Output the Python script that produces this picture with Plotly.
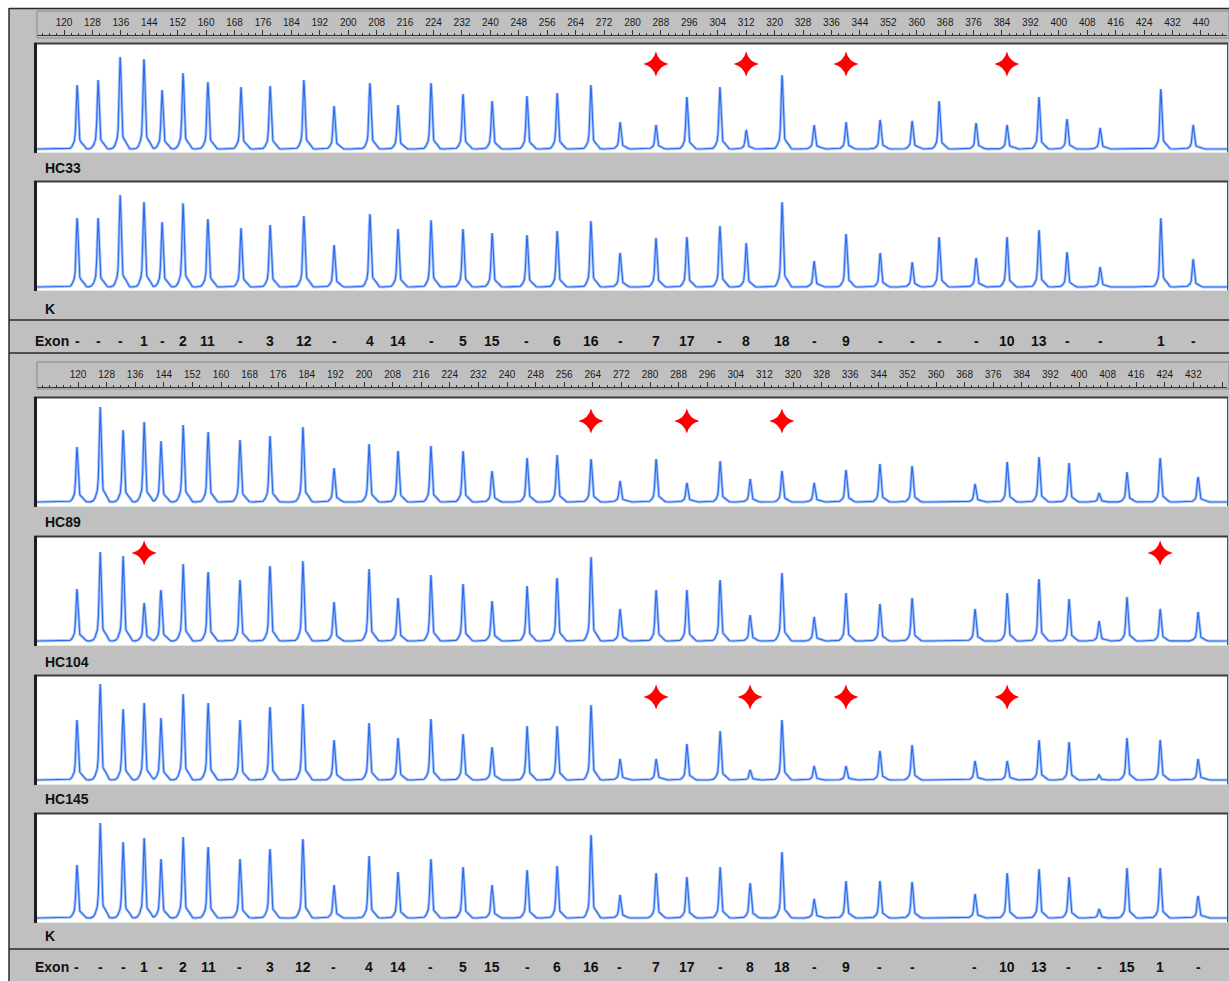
import numpy as np
import plotly.graph_objects as go

W, H = 1229, 981

# ---------------- data ----------------
# fragment sizes (bp) of the probe peaks, read against each group's own ruler
top_sizes = [123.7, 129.6, 135.8, 142.5, 147.6, 153.5, 160.5, 169.8, 178.0, 187.5,
             196.0, 206.1, 214.0, 223.3, 232.3, 240.5, 250.3, 258.8, 268.3, 276.5,
             286.6, 295.3, 304.6, 312.0, 322.1, 331.1, 340.1, 349.7, 358.7, 366.3,
             376.7, 385.4, 394.4, 402.3, 411.6, 428.7, 437.8]
bottom_sizes = [119.7, 126.2, 132.6, 138.5, 143.2, 149.4, 156.4, 165.3, 173.7, 182.9,
                191.6, 201.4, 209.5, 218.7, 227.7, 235.8, 245.6, 254.0, 263.5, 271.6,
                281.7, 290.3, 299.6, 308.0, 316.9, 325.9, 334.8, 344.3, 353.3, 370.9,
                379.9, 388.8, 397.2, 405.6, 413.4, 422.7, 433.3]

# peak heights (relative fluorescence units, arbitrary)
hc33 = [64, 69, 92, 90, 59, 76, 67, 62, 63, 69, 43, 66, 44, 66, 55, 48, 53, 56, 64, 27,
        24, 52, 62, 19, 74, 24, 27, 29, 28, 48, 26, 24, 52, 30, 21, 60, 24]
k_top = [69, 69, 92, 85, 65, 84, 68, 59, 62, 71, 42, 73, 58, 67, 58, 54, 52, 56, 66, 34,
         49, 50, 61, 44, 85, 26, 53, 34, 25, 50, 29, 50, 57, 35, 20, 69, 28]
hc89 = [55, 95, 72, 80, 61, 77, 70, 62, 66, 75, 34, 58, 51, 56, 51, 31, 44, 47, 43, 21,
        43, 19, 41, 23, 31, 19, 32, 38, 36, 18, 40, 45, 39, 9, 30, 44, 25]
hc104 = [52, 89, 85, 38, 51, 77, 69, 61, 75, 80, 39, 72, 43, 66, 57, 40, 55, 63, 84, 32,
         51, 51, 61, 26, 68, 24, 48, 37, 43, 32, 48, 62, 42, 20, 44, 32, 29]
hc145 = [60, 96, 71, 77, 62, 86, 77, 60, 73, 76, 40, 57, 42, 61, 46, 33, 54, 54, 75, 21,
         21, 36, 49, 10, 60, 14, 14, 29, 35, 19, 19, 40, 38, 5, 42, 40, 21]
k_bottom = [53, 95, 76, 80, 59, 81, 71, 59, 69, 79, 33, 62, 46, 59, 51, 33, 48, 52, 83, 23,
            45, 41, 51, 35, 66, 19, 37, 37, 36, 24, 45, 49, 41, 9, 50, 50, 22]

# indices of peaks marked with a star (reduced peaks)
hc33_marks = [20, 23, 26, 31]
hc89_marks = [18, 21, 24]
hc104_marks = [3, 35]
hc145_marks = [20, 23, 26, 30]

top_exons = ["-", "-", "-", "1", "-", "2", "11", "-", "3", "12", "-", "4", "14", "-", "5",
             "15", "-", "6", "16", "-", "7", "17", "-", "8", "18", "-", "9", "-", "-", "-",
             "-", "10", "13", "-", "-", "1", "-"]
bottom_exons = ["-", "-", "-", "1", "-", "2", "11", "-", "3", "12", "-", "4", "14", "-", "5",
                "15", "-", "6", "16", "-", "7", "17", "-", "8", "18", "-", "9", "-", "-", "-",
                "10", "13", "-", "-", "15", "1", "-"]

ruler_ticks = [120, 128, 136, 144, 152, 160, 168, 176, 184, 192, 200, 208, 216, 224, 232,
               240, 248, 256, 264, 272, 280, 288, 296, 304, 312, 320, 328, 336, 344, 352,
               360, 368, 376, 384, 392, 400, 408, 416, 424, 432, 440]

# ---------------- geometry helpers ----------------
def px(x):
    return x / W


def py(y):
    return 1 - y / H


XL, XR = 37, 1227
top_range = [120 + (XL - 64) / 3.553, 120 + (XR - 64) / 3.553]
bot_range = [120 + (XL - 78) / 3.575, 120 + (XR - 78) / 3.575]

panels = [
    # name, sizes, heights, group, top px, bottom px, yrange, label y, marks, star y
    ("HC33", top_sizes, hc33, "top", 44, 152, [-3, 105], 168, hc33_marks, 85),
    ("K", top_sizes, k_top, "top", 182, 290, [-3, 105], 309, None, None),
    ("HC89", bottom_sizes, hc89, "bot", 398, 506, [-4, 104], 522, hc89_marks, 81),
    ("HC104", bottom_sizes, hc104, "bot", 537, 645, [-4, 104], 662, hc104_marks, 88),
    ("HC145", bottom_sizes, hc145, "bot", 676, 784, [-4, 104], 799, hc145_marks, 83),
    ("K", bottom_sizes, k_bottom, "bot", 814, 922, [-4, 104], 936, None, None),
]

FONT = "Arial, Liberation Sans, Helvetica, sans-serif"
TXT = "#111111"
GREY = "#c0c0c0"

fig = go.Figure()
layout = dict(
    width=W, height=H, margin=dict(l=0, r=0, t=0, b=0),
    paper_bgcolor=GREY, plot_bgcolor="white", showlegend=False,
    font=dict(family=FONT, color=TXT),
)
shapes = []
annotations = []

# white outer margins (left and top) and the dark frame of the grey window
shapes.append(dict(type="rect", xref="paper", yref="paper", x0=0, x1=px(9), y0=0, y1=1,
                   fillcolor="white", line=dict(width=0)))
shapes.append(dict(type="rect", xref="paper", yref="paper", x0=0, x1=1, y0=py(8), y1=1,
                   fillcolor="white", line=dict(width=0)))
shapes.append(dict(type="line", xref="paper", yref="paper", x0=px(9), x1=px(9),
                   y0=py(8), y1=0, line=dict(color="#2a2a2a", width=1.5)))
shapes.append(dict(type="line", xref="paper", yref="paper", x0=px(9), x1=1,
                   y0=py(8.5), y1=py(8.5), line=dict(color="#2a2a2a", width=1.5)))
for yy in (320, 353, 949):
    shapes.append(dict(type="line", xref="paper", yref="paper", x0=px(9), x1=1,
                       y0=py(yy), y1=py(yy), line=dict(color="#2a2a2a", width=1.5)))
# ruler boxes
for (y0, y1) in ((11, 38), (362, 389)):
    shapes.append(dict(type="rect", xref="paper", yref="paper", x0=px(37), x1=1,
                       y0=py(y0), y1=py(y1), line=dict(color="#8a8a8a", width=1),
                       fillcolor="rgba(0,0,0,0)"))


def peak_curve(sizes, heights, xr):
    x = np.arange(xr[0], xr[1], 0.04)
    y = np.zeros_like(x)
    for s, h in zip(sizes, heights):
        y += h * (0.82 * np.exp(-0.5 * ((x - s) / 0.26) ** 2)
                  + 0.18 * np.exp(-0.5 * ((x - s) / 0.85) ** 2)
                  + 0.05 * np.exp(-0.5 * ((x - s - 1.6) / 0.45) ** 2))
    return x, y


for i, (name, sizes, heights, grp, ytop, ybot, yr, laby, marks, stary) in enumerate(panels):
    n = i + 1
    xa = "x" if n == 1 else f"x{n}"
    ya = "y" if n == 1 else f"y{n}"
    xkey = "xaxis" if n == 1 else f"xaxis{n}"
    ykey = "yaxis" if n == 1 else f"yaxis{n}"
    xr = top_range if grp == "top" else bot_range

    xs, ys = peak_curve(sizes, heights, xr)
    fig.add_trace(go.Scatter(x=xs, y=ys, xaxis=xa, yaxis=ya, mode="lines",
                             line=dict(color="rgba(120,165,245,0.6)", width=3),
                             hoverinfo="skip"))
    fig.add_trace(go.Scatter(x=xs, y=ys, xaxis=xa, yaxis=ya, mode="lines",
                             line=dict(color="#2e6cf0", width=1.2), hoverinfo="skip"))
    if marks:
        fig.add_trace(go.Scatter(x=[sizes[m] for m in marks], y=[stary] * len(marks),
                                 xaxis=xa, yaxis=ya, mode="markers",
                                 marker=dict(symbol="star-diamond", size=18, color="#ff0000",
                                             line=dict(width=0)),
                                 hoverinfo="skip"))

    ax = dict(domain=[px(XL), px(XR)], range=xr, showgrid=False, zeroline=False,
              fixedrange=True)
    is_ruler = (name == "HC33") or (name == "HC89")
    if is_ruler:
        ruler_y = 35 if grp == "top" else 387
        ax.update(anchor="free", position=py(ruler_y), side="top", showline=True,
                  linecolor="#333333", linewidth=1, ticks="outside", ticklen=5,
                  tickcolor="#333333", tickwidth=1, tickmode="array",
                  tickvals=ruler_ticks, ticktext=[str(t) for t in ruler_ticks],
                  tickfont=dict(size=10, color="#1a1a1a", family=FONT),
                  minor=dict(ticks="outside", dtick=2, tick0=120, ticklen=2,
                             tickcolor="#333333", tickwidth=1))
    else:
        ax.update(anchor=ya, showticklabels=False, ticks="", showline=False)
    layout[xkey] = ax
    layout[ykey] = dict(domain=[py(ybot), py(ytop)], range=yr, showgrid=False,
                        zeroline=False, showticklabels=False, ticks="", anchor=xa,
                        fixedrange=True)

    # panel frame
    shapes.append(dict(type="line", xref="paper", yref="paper", x0=px(34), x1=px(1228),
                       y0=py(ytop - 0.5), y1=py(ytop - 0.5),
                       line=dict(color="#3c3c3c", width=2)))
    shapes.append(dict(type="line", xref="paper", yref="paper", x0=px(35.5), x1=px(35.5),
                       y0=py(ytop - 1), y1=py(ybot + 1),
                       line=dict(color="#1c1c1c", width=3)))
    shapes.append(dict(type="line", xref="paper", yref="paper", x0=px(1227.5), x1=px(1227.5),
                       y0=py(ytop), y1=py(ybot),
                       line=dict(color="#505050", width=1)))
    shapes.append(dict(type="line", xref="paper", yref="paper", x0=px(37), x1=px(1227),
                       y0=py(ybot + 0.5), y1=py(ybot + 0.5),
                       line=dict(color="#e6e6e6", width=1)))

    annotations.append(dict(text=name, xref="paper", yref="paper", x=px(43), y=py(laby),
                            xanchor="left", yanchor="middle", showarrow=False,
                            font=dict(size=14, color=TXT, family=FONT, weight="bold")))

# exon rows
for labels, sizes, xref, yy in ((top_exons, top_sizes, "x", 341),
                                (bottom_exons, bottom_sizes, "x3", 967)):
    annotations.append(dict(text="Exon", xref="paper", yref="paper", x=px(33), y=py(yy),
                            xanchor="left", yanchor="middle", showarrow=False,
                            font=dict(size=14, color=TXT, family=FONT, weight="bold")))
    for lab, s in zip(labels, sizes):
        annotations.append(dict(text=lab, xref=xref, yref="paper", x=s, y=py(yy),
                                xanchor="center", yanchor="middle", showarrow=False,
                                font=dict(size=14, color=TXT, family=FONT, weight="bold")))

layout["shapes"] = shapes
layout["annotations"] = annotations
fig.update_layout(**layout)
fig.write_html("out.html")
